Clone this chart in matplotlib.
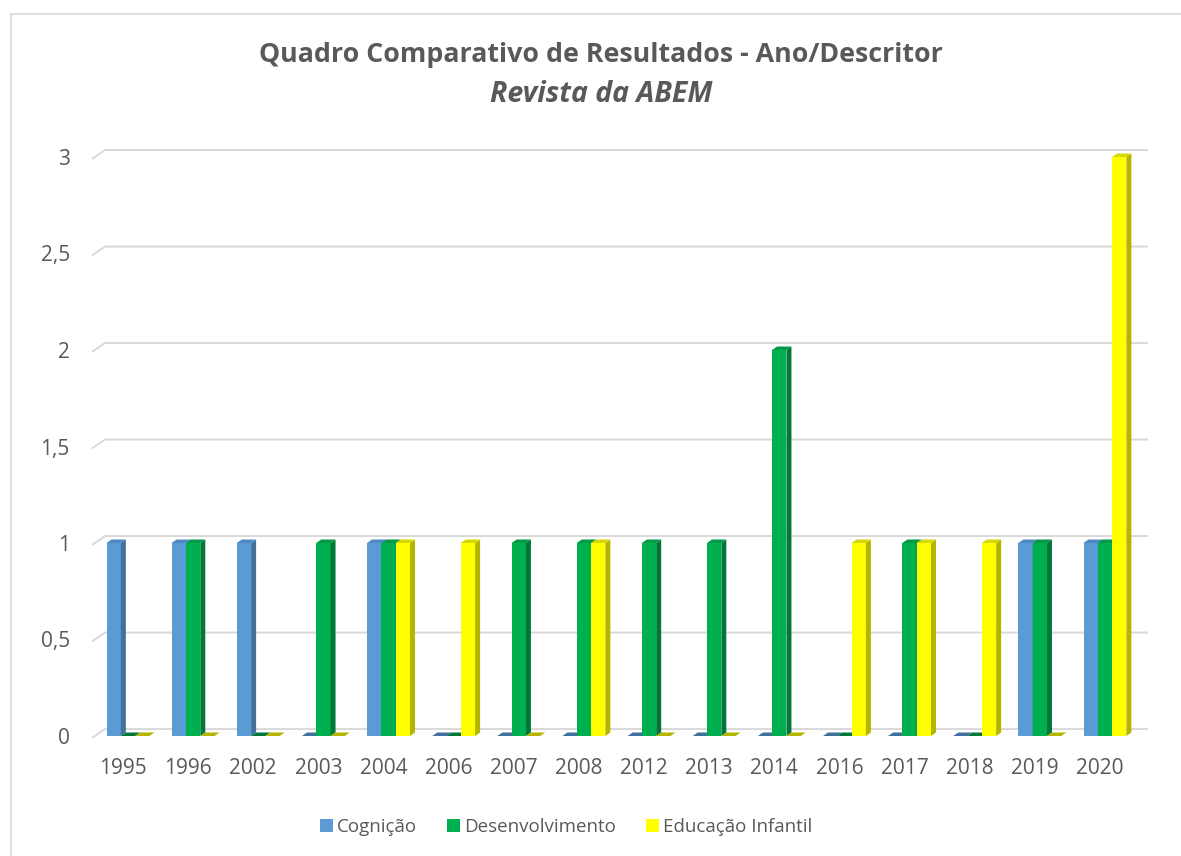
import numpy as np
import matplotlib.pyplot as plt
from matplotlib.patches import Polygon, Patch
from matplotlib.lines import Line2D

#%%Data
anos = ['1995', '1996', '2002', '2003', '2004', '2006', '2007', '2008',
        '2012', '2013', '2014', '2016', '2017', '2018', '2019', '2020']
cognicao = [1, 1, 1, 0, 1, 0, 0, 0, 0, 0, 0, 0, 0, 0, 1, 1]
desenvolvimento = [0, 1, 0, 1, 1, 0, 1, 1, 1, 1, 2, 0, 1, 0, 1, 1]
educacao = [0, 0, 0, 0, 1, 1, 0, 1, 0, 0, 0, 1, 1, 1, 0, 3]
series = ['Cognição', 'Desenvolvimento', 'Educação Infantil']
yticks = [0, 0.5, 1, 1.5, 2, 2.5, 3]
ytick_labels = ['0', '0,5', '1', '1,5', '2', '2,5', '3']

#%%Styles (front, top, side)
cores = [('#5B9BD5', '#4F89C2', '#41719C'),
         ('#00B050', '#009A46', '#00783A'),
         ('#FFFF00', '#D6D600', '#B5B500')]
txt = '#595959'
plt.rcParams['font.family'] = ['Open Sans', 'DejaVu Sans']

W, H = 1181, 856
fig = plt.figure(figsize=(W / 100, H / 100), dpi=100)
# plot area in pixels
px_l, px_r, px_b, px_t = 92, 1148, 736, 140
ax = fig.add_axes([px_l / W, 1 - px_b / H, (px_r - px_l) / W, (px_b - px_t) / H])
c0, step = 128, 65.13  # pixel of first cluster center, cluster spacing
xmin, xmax = (px_l - c0) / step, (px_r - c0) / step
ax.set_xlim(xmin, xmax)
ax.set_ylim(0, (px_b - px_t) / 193.0)

x = np.arange(len(anos))
w = 14.3 / step
dx, dy = 5 / step, 3.5 / 193.0

#%%Gridlines (back wall, with slanted left piece)
for v in yticks:
    ax.plot([xmin, xmin + 13 / step, xmax], [v - 0.01, v + 0.036, v + 0.036],
            color='#D9D9D9', lw=1.4, zorder=1, clip_on=False, solid_capstyle='butt')

#%%3D bars
dados = [cognicao, desenvolvimento, educacao]
for k, vals in enumerate(dados):
    frente, topo, lado = cores[k]
    bars = ax.bar(x + (k - 1) * w, vals, width=w, color=frente, zorder=3 + k)
    for r in bars:
        x0 = r.get_x()
        x1 = x0 + r.get_width()
        h = r.get_height()
        if h > 0:
            ax.add_patch(Polygon([(x1, 0), (x1 + dx, dy), (x1 + dx, h + dy), (x1, h)],
                                 closed=True, color=lado, zorder=3 + k, lw=0))
        ax.add_patch(Polygon([(x0, h), (x1, h), (x1 + dx, h + dy), (x0 + dx, h + dy)],
                             closed=True, color=topo if h > 0 else lado, zorder=3 + k, lw=0))

for s in ax.spines.values():
    s.set_visible(False)
ax.set_yticks(yticks)
ax.set_yticklabels(ytick_labels)
ax.set_xticks(x - 0.077)
ax.set_xticklabels(anos)
ax.tick_params(axis='both', length=0, labelsize=15, labelcolor=txt)
ax.tick_params(axis='y', pad=16)
ax.tick_params(axis='x', pad=16)

#%%Title
fig.text(601 / W, 1 - 55 / H, 'Quadro Comparativo de Resultados - Ano/Descritor',
         ha='center', va='center', fontsize=19.3, fontweight='bold', color=txt)
fig.text(601 / W, 1 - 95 / H, 'Revista da ABEM', ha='center', va='center',
         fontsize=20.5, fontweight='bold', style='italic', color=txt)

#%%Legend
handles = [Patch(facecolor=cores[k][0], edgecolor='none', label=series[k]) for k in range(3)]
fig.legend(handles=handles, loc='center', bbox_to_anchor=(566 / W, 1 - 827 / H), ncol=3,
           frameon=False, fontsize=13.5, labelcolor=txt, handlelength=0.7, handleheight=0.7,
           handletextpad=0.2, columnspacing=1.6)

#%%Outer border (chart area, cropped)
fig.add_artist(Line2D([10.5 / W, 1], [1 - 13.5 / H, 1 - 13.5 / H], color='#D9D9D9', lw=1.2))
fig.add_artist(Line2D([10.5 / W, 10.5 / W], [0, 1 - 13.5 / H], color='#D9D9D9', lw=1.2))

plt.savefig('out.png', dpi=100)
